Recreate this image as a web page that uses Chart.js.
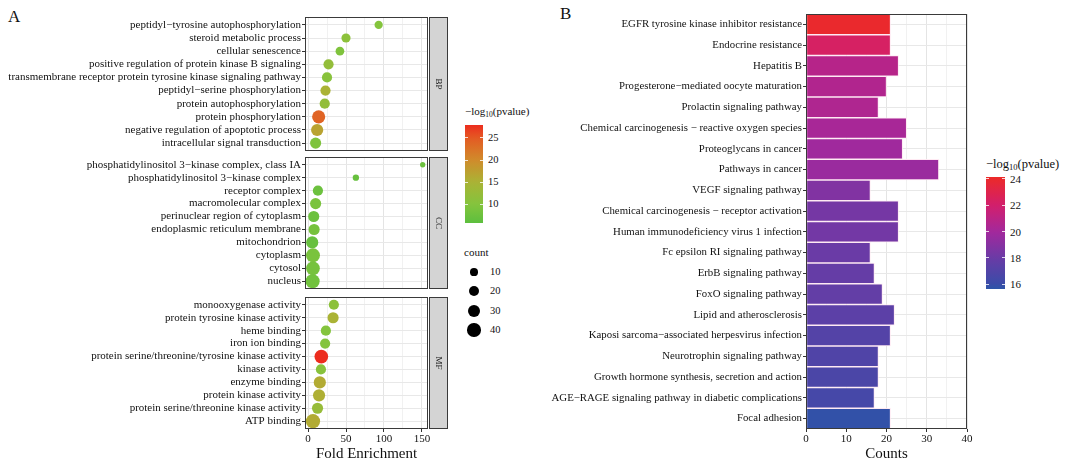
<!DOCTYPE html>
<html>
<head>
<meta charset="utf-8">
<script src="https://cdn.jsdelivr.net/npm/chart.js@4.4.0/dist/chart.umd.min.js"></script>
<style>
  body { margin: 0; background: #fff; width: 1066px; height: 463px; position: relative; overflow: hidden;
         font-family: "Liberation Serif", serif; color: #111; }
  .abs { position: absolute; }
  .lbl { font-size: 10.5px; line-height: 10px; white-space: nowrap; color: #111; }
  .ttl { font-size: 11px; white-space: nowrap; color: #111; }
  .ttl sub { font-size: 7.5px; vertical-align: -2px; }
  #legB .ttl { font-size: 12.5px; }
  #legB .ttl sub { font-size: 8.5px; }
  #legB .lbl { font-size: 11px; }
  .panel-tag { font-size: 17px; color: #111; }
</style>
</head>
<body>
<div class="abs panel-tag" style="left:8px;top:7px">A</div>
<div class="abs panel-tag" style="left:560px;top:4px">B</div>

<canvas id="bp" class="abs" style="left:0;top:17px" width="450" height="134"></canvas>
<canvas id="cc" class="abs" style="left:0;top:157px" width="450" height="132"></canvas>
<canvas id="mf" class="abs" style="left:0;top:297px" width="450" height="166"></canvas>
<canvas id="kegg" class="abs" style="left:550px;top:0" width="430" height="463"></canvas>

<div id="legA" class="abs" style="left:0;top:0"></div>
<div id="legB" class="abs" style="left:0;top:0"></div>

<script>
// GO enrichment, panel A
const bpTerms = ['peptidyl−tyrosine autophosphorylation', 'steroid metabolic process', 'cellular senescence',
  'positive regulation of protein kinase B signaling',
  'transmembrane receptor protein tyrosine kinase signaling pathway', 'peptidyl−serine phosphorylation',
  'protein autophosphorylation', 'protein phosphorylation', 'negative regulation of apoptotic process',
  'intracellular signal transduction'];
const bpFold = [93, 50, 42, 27, 25, 23, 22, 14, 12, 10];
const bpCount = [12, 16, 14, 21, 21, 21, 21, 38, 32, 26];
const bpLogP = [10, 11, 9.5, 12, 10.5, 15, 12, 24, 17, 9.5];

const ccTerms = ['phosphatidylinositol 3−kinase complex, class IA', 'phosphatidylinositol 3−kinase complex',
  'receptor complex', 'macromolecular complex', 'perinuclear region of cytoplasm',
  'endoplasmic reticulum membrane', 'mitochondrion', 'cytoplasm', 'cytosol', 'nucleus'];
const ccFold = [151, 63, 13, 10, 7.5, 8, 5.5, 6.5, 6.5, 6];
const ccCount = [2, 5, 21, 26, 26, 26, 32, 44, 42, 45];
const ccLogP = [7.5, 7, 7.5, 9, 7.5, 8.5, 7, 9, 8.5, 8];

const mfTerms = ['monooxygenase activity', 'protein tyrosine kinase activity', 'heme binding', 'iron ion binding',
  'protein serine/threonine/tyrosine kinase activity', 'kinase activity', 'enzyme binding',
  'protein kinase activity', 'protein serine/threonine kinase activity', 'ATP binding'];
const mfFold = [34, 33, 23.5, 22.5, 17.5, 17, 15.5, 14.5, 12.5, 6.5];
const mfCount = [21, 26, 21, 21, 42, 21, 32, 32, 26, 46];
const mfLogP = [11, 15, 10, 10, 28, 10.5, 16, 15.5, 12.5, 16];

const foldTicks = [0, 25, 50, 75, 100, 125, 150];
const legendATicks = [10, 15, 20, 25];
const sizeTicks = [10, 20, 30, 40];

// KEGG, panel B
const keggTerms = ['EGFR tyrosine kinase inhibitor resistance', 'Endocrine resistance', 'Hepatitis B',
  'Progesterone−mediated oocyte maturation', 'Prolactin signaling pathway',
  'Chemical carcinogenesis − reactive oxygen species', 'Proteoglycans in cancer', 'Pathways in cancer',
  'VEGF signaling pathway', 'Chemical carcinogenesis − receptor activation',
  'Human immunodeficiency virus 1 infection', 'Fc epsilon RI signaling pathway', 'ErbB signaling pathway',
  'FoxO signaling pathway', 'Lipid and atherosclerosis', 'Kaposi sarcoma−associated herpesvirus infection',
  'Neurotrophin signaling pathway', 'Growth hormone synthesis, secretion and action',
  'AGE−RAGE signaling pathway in diabetic complications', 'Focal adhesion'];
const keggCounts = [21, 21, 23, 20, 18, 25, 24, 33, 16, 23, 23, 16, 17, 19, 22, 21, 18, 18, 17, 21];
const keggLogP = [24, 22.3, 20.8, 20.6, 20.5, 20.2, 19.9, 19.7, 18.8, 18.4, 18.3, 18, 17.8, 17.7, 17.4,
  17.1, 16.9, 16.7, 16.5, 15.8];
const countTicks = [0, 5, 10, 15, 20, 25, 30, 35, 40];
const legendBTicks = [16, 18, 20, 22, 24];

// colour scales
const rangeA = [5.8, 27.9];
const stopsA = [[5.8, '#5cbf3e'], [10, '#84c43d'], [15, '#aab335'], [20, '#d08b2b'], [25, '#e45a23'], [27.9, '#ec2c1e']];
const rangeB = [15.64, 24.15];
const stopsB = [[15.64, '#2c55a8'], [16, '#3a4ca8'], [18, '#6a3ba6'], [20, '#a3289c'], [22, '#d21f6c'], [24.15, '#ec2a28']];

function hex2rgb(h) {
  return [1, 3, 5].map(i => parseInt(h.substr(i, 2), 16));
}
function gradient(stops, v) {
  if (v <= stops[0][0]) return stops[0][1];
  for (let i = 1; i < stops.length; i++) {
    if (v <= stops[i][0]) {
      const t = (v - stops[i - 1][0]) / (stops[i][0] - stops[i - 1][0]);
      const a = hex2rgb(stops[i - 1][1]), b = hex2rgb(stops[i][1]);
      return 'rgb(' + a.map((c, k) => Math.round(c + (b[k] - c) * t)).join(',') + ')';
    }
  }
  return stops[stops.length - 1][1];
}
const colorA = v => gradient(stopsA, v);
const colorB = v => gradient(stopsB, v);
const sizeOf = n => Math.sqrt(5 + n);

const FONT = '"Liberation Serif", serif';
const TEXT = '#111';

// no label padding around the plot area, ggplot keeps the panel fixed
function noPad(s) {
  s.paddingTop = 0; s.paddingBottom = 0; s.paddingLeft = 0; s.paddingRight = 0;
}

// panel border + facet strip
const panelPlugin = {
  id: 'panel',
  afterDraw(chart, args, opts) {
    const { ctx, chartArea: a } = chart;
    ctx.save();
    ctx.strokeStyle = '#3a3a3a';
    ctx.lineWidth = 1;
    ctx.strokeRect(a.left + 0.5, a.top + 0.5, a.right - a.left - 1, a.bottom - a.top - 1);
    if (opts.strip) {
      const x = a.right + 1;
      ctx.fillStyle = '#d4d4d4';
      ctx.fillRect(x, a.top, 19, a.bottom - a.top);
      ctx.strokeRect(x + 0.5, a.top + 0.5, 18, a.bottom - a.top - 1);
      ctx.translate(x + 9.5, (a.top + a.bottom) / 2);
      ctx.rotate(Math.PI / 2);
      ctx.fillStyle = TEXT;
      ctx.font = '9px ' + FONT;
      ctx.textAlign = 'center';
      ctx.textBaseline = 'middle';
      ctx.fillText(opts.strip, 0, 0);
    }
    ctx.restore();
  }
};

function facetChart(id, terms, fold, count, logp, strip, showX) {
  return new Chart(document.getElementById(id), {
    type: 'bubble',
    data: {
      datasets: [{
        data: terms.map((t, i) => ({ x: fold[i], y: i, r: sizeOf(count[i]) })),
        backgroundColor: logp.map(colorA),
        borderWidth: 0
      }]
    },
    options: {
      responsive: false,
      animation: false,
      events: [],
      layout: { autoPadding: false, padding: { right: 22 } },
      plugins: { legend: { display: false }, tooltip: { enabled: false }, panel: { strip: strip } },
      scales: {
        x: {
          type: 'linear', min: -4, max: 158,
          afterBuildTicks: s => { s.ticks = foldTicks.map(v => ({ value: v })); },
          afterFit: s => { s.height = showX ? 34 : 0; noPad(s); },
          border: { display: false },
          grid: {
            color: c => c.tick && c.tick.value % 50 === 0 ? '#e4e4e4' : '#f1f1f1',
            drawTicks: showX, tickLength: 3,
            tickColor: c => c.tick && c.tick.value % 50 === 0 ? '#333' : 'rgba(0,0,0,0)'
          },
          ticks: {
            display: showX, autoSkip: false, maxRotation: 0, padding: 1,
            font: { family: FONT, size: 11 }, color: TEXT,
            callback: v => v % 50 === 0 ? v : ''
          },
          title: {
            display: showX, text: 'Fold Enrichment', color: '#111',
            font: { family: FONT, size: 15 }, padding: { top: 0, bottom: 0 }
          }
        },
        y: {
          type: 'linear', min: -0.6, max: terms.length - 0.4, reverse: true,
          afterBuildTicks: s => { s.ticks = terms.map((t, i) => ({ value: i })); },
          afterFit: s => { s.width = 305; noPad(s); },
          border: { display: false },
          grid: { color: '#e8e8e8', tickColor: '#333', tickLength: 3 },
          ticks: {
            autoSkip: false, padding: 1, color: TEXT,
            font: { family: FONT, size: 11 },
            callback: v => terms[v]
          }
        }
      }
    },
    plugins: [panelPlugin]
  });
}

facetChart('bp', bpTerms, bpFold, bpCount, bpLogP, 'BP', false);
facetChart('cc', ccTerms, ccFold, ccCount, ccLogP, 'CC', false);
facetChart('mf', mfTerms, mfFold, mfCount, mfLogP, 'MF', true);

new Chart(document.getElementById('kegg'), {
  type: 'bar',
  data: {
    labels: keggTerms,
    datasets: [{
      data: keggCounts,
      backgroundColor: keggLogP.map(colorB),
      borderColor: 'rgba(255,232,242,0.9)',
      borderWidth: 1,
      borderSkipped: false,
      barPercentage: 1,
      categoryPercentage: 1
    }]
  },
  options: {
    indexAxis: 'y',
    responsive: false,
    animation: false,
    events: [],
    layout: { autoPadding: false, padding: { top: 14, right: 13 } },
    plugins: { legend: { display: false }, tooltip: { enabled: false }, panel: { strip: '' } },
    scales: {
      x: {
        type: 'linear', min: 0, max: 40,
        afterBuildTicks: s => { s.ticks = countTicks.map(v => ({ value: v })); },
        afterFit: s => { s.height = 34; noPad(s); },
        border: { display: false },
        grid: {
          color: c => c.tick && c.tick.value % 10 === 0 ? '#e4e4e4' : '#f1f1f1',
          tickLength: 3,
          tickColor: c => c.tick && c.tick.value % 10 === 0 ? '#333' : 'rgba(0,0,0,0)'
        },
        ticks: {
          autoSkip: false, maxRotation: 0, padding: 1,
          font: { family: FONT, size: 11 }, color: TEXT,
          callback: v => v % 10 === 0 ? v : ''
        },
        title: {
          display: true, text: 'Counts', color: '#111',
          font: { family: FONT, size: 15 }, padding: { top: 0, bottom: 0 }
        }
      },
      y: {
        afterFit: s => { s.width = 256; noPad(s); },
        border: { display: false },
        grid: { offset: false, color: '#e8e8e8', tickColor: '#333', tickLength: 3 },
        ticks: { autoSkip: false, padding: 1, color: TEXT, font: { family: FONT, size: 10.8 } }
      }
    }
  },
  plugins: [panelPlugin]
});

// legends (ggplot style colourbar + size key)
function colourbar(x, y, w, h, range, color, ticks, title) {
  let html = '<div class="abs ttl" style="left:' + x + 'px;top:' + (y - 20) + 'px">' + title + '</div>';
  const stops = [];
  for (let k = 0; k <= 20; k++) {
    const v = range[1] - (range[1] - range[0]) * k / 20;
    stops.push(color(v) + ' ' + (k * 5) + '%');
  }
  html += '<div class="abs" style="left:' + x + 'px;top:' + y + 'px;width:' + w + 'px;height:' + h +
    'px;background:linear-gradient(to bottom,' + stops.join(',') + ')"></div>';
  ticks.forEach(v => {
    const ty = y + (range[1] - v) / (range[1] - range[0]) * h;
    html += '<div class="abs" style="left:' + x + 'px;top:' + (ty - 0.5) + 'px;width:3px;height:1px;background:rgba(255,255,255,0.8)"></div>';
    html += '<div class="abs" style="left:' + (x + w - 3) + 'px;top:' + (ty - 0.5) + 'px;width:3px;height:1px;background:rgba(255,255,255,0.8)"></div>';
    html += '<div class="abs lbl" style="left:' + (x + w + 5) + 'px;top:' + (ty - 5) + 'px">' + v + '</div>';
  });
  return html;
}

const logTitle = '−log<sub>10</sub>(pvalue)';
let legA = colourbar(465, 125, 18, 98, rangeA, colorA, legendATicks, logTitle);
legA += '<div class="abs ttl" style="left:464px;top:246px">count</div>';
sizeTicks.forEach((n, i) => {
  const r = sizeOf(n), cy = 272 + i * 19.3;
  legA += '<div class="abs" style="left:' + (474 - r) + 'px;top:' + (cy - r) + 'px;width:' + (2 * r) +
    'px;height:' + (2 * r) + 'px;border-radius:50%;background:#000"></div>';
  legA += '<div class="abs lbl" style="left:490px;top:' + (cy - 5) + 'px">' + n + '</div>';
});
document.getElementById('legA').innerHTML = legA;
document.getElementById('legB').innerHTML = colourbar(986, 177, 19, 112, rangeB, colorB, legendBTicks, logTitle);
</script>
</body>
</html>
